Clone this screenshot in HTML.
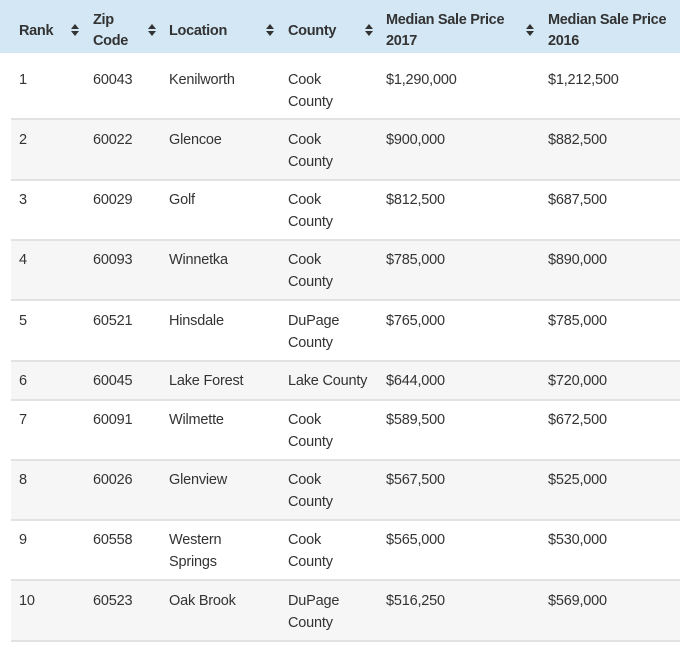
<!DOCTYPE html>
<html><head><style>
body{margin:0;width:680px;height:645px;background:#fff;position:relative;overflow:hidden;font-family:"Liberation Sans",sans-serif;color:#333;}
.hd{position:absolute;left:0;top:0;width:680px;height:53px;background:#d3e7f5;}
.h{position:absolute;font-size:14.5px;font-weight:bold;color:#333;line-height:21px;letter-spacing:-0.3px;}
.ic{position:absolute;width:8px;height:12px;}
.r{position:absolute;left:11px;width:669px;border-bottom:2px solid #e2e2e2;box-sizing:border-box;}
.g{background:#f6f6f6;}
.t{position:absolute;font-size:14.5px;line-height:22px;color:#333;letter-spacing:-0.2px;margin-top:1px;}
</style></head><body>
<div class="hd"></div>
<div class="h" style="left:19px;top:21px">Rank</div>
<div class="h" style="left:93px;top:10px">Zip<br>Code</div>
<div class="h" style="left:169px;top:21px">Location</div>
<div class="h" style="left:288px;top:21px">County</div>
<div class="h" style="left:386px;top:10px">Median Sale Price<br>2017</div>
<div class="h" style="left:548px;top:10px">Median Sale Price<br>2016</div>
<svg class="ic" style="left:71px;top:24px" viewBox="0 0 8 12"><path d="M0 5L4 0L8 5Z M0 7L4 12L8 7Z" fill="#333"/></svg>
<svg class="ic" style="left:148px;top:24px" viewBox="0 0 8 12"><path d="M0 5L4 0L8 5Z M0 7L4 12L8 7Z" fill="#333"/></svg>
<svg class="ic" style="left:266px;top:24px" viewBox="0 0 8 12"><path d="M0 5L4 0L8 5Z M0 7L4 12L8 7Z" fill="#333"/></svg>
<svg class="ic" style="left:365px;top:24px" viewBox="0 0 8 12"><path d="M0 5L4 0L8 5Z M0 7L4 12L8 7Z" fill="#333"/></svg>
<svg class="ic" style="left:526px;top:24px" viewBox="0 0 8 12"><path d="M0 5L4 0L8 5Z M0 7L4 12L8 7Z" fill="#333"/></svg>

<div class="r" style="top:53px;height:67px"></div>
<div class="r g" style="top:120px;height:61px"></div>
<div class="r" style="top:181px;height:60px"></div>
<div class="r g" style="top:241px;height:60px"></div>
<div class="r" style="top:301px;height:61px"></div>
<div class="r g" style="top:362px;height:39px"></div>
<div class="r" style="top:401px;height:60px"></div>
<div class="r g" style="top:461px;height:60px"></div>
<div class="r" style="top:521px;height:60px"></div>
<div class="r g" style="top:581px;height:61px"></div>

<div class="t" style="left:19px;top:68px">1</div><div class="t" style="left:93px;top:68px">60043</div><div class="t" style="left:169px;top:68px">Kenilworth</div><div class="t" style="left:288px;top:68px">Cook<br>County</div><div class="t" style="left:386px;top:68px">$1,290,000</div><div class="t" style="left:548px;top:68px">$1,212,500</div>
<div class="t" style="left:19px;top:128px">2</div><div class="t" style="left:93px;top:128px">60022</div><div class="t" style="left:169px;top:128px">Glencoe</div><div class="t" style="left:288px;top:128px">Cook<br>County</div><div class="t" style="left:386px;top:128px">$900,000</div><div class="t" style="left:548px;top:128px">$882,500</div>
<div class="t" style="left:19px;top:188px">3</div><div class="t" style="left:93px;top:188px">60029</div><div class="t" style="left:169px;top:188px">Golf</div><div class="t" style="left:288px;top:188px">Cook<br>County</div><div class="t" style="left:386px;top:188px">$812,500</div><div class="t" style="left:548px;top:188px">$687,500</div>
<div class="t" style="left:19px;top:248px">4</div><div class="t" style="left:93px;top:248px">60093</div><div class="t" style="left:169px;top:248px">Winnetka</div><div class="t" style="left:288px;top:248px">Cook<br>County</div><div class="t" style="left:386px;top:248px">$785,000</div><div class="t" style="left:548px;top:248px">$890,000</div>
<div class="t" style="left:19px;top:309px">5</div><div class="t" style="left:93px;top:309px">60521</div><div class="t" style="left:169px;top:309px">Hinsdale</div><div class="t" style="left:288px;top:309px">DuPage<br>County</div><div class="t" style="left:386px;top:309px">$765,000</div><div class="t" style="left:548px;top:309px">$785,000</div>
<div class="t" style="left:19px;top:369px">6</div><div class="t" style="left:93px;top:369px">60045</div><div class="t" style="left:169px;top:369px">Lake Forest</div><div class="t" style="left:288px;top:369px">Lake County</div><div class="t" style="left:386px;top:369px">$644,000</div><div class="t" style="left:548px;top:369px">$720,000</div>
<div class="t" style="left:19px;top:408px">7</div><div class="t" style="left:93px;top:408px">60091</div><div class="t" style="left:169px;top:408px">Wilmette</div><div class="t" style="left:288px;top:408px">Cook<br>County</div><div class="t" style="left:386px;top:408px">$589,500</div><div class="t" style="left:548px;top:408px">$672,500</div>
<div class="t" style="left:19px;top:468px">8</div><div class="t" style="left:93px;top:468px">60026</div><div class="t" style="left:169px;top:468px">Glenview</div><div class="t" style="left:288px;top:468px">Cook<br>County</div><div class="t" style="left:386px;top:468px">$567,500</div><div class="t" style="left:548px;top:468px">$525,000</div>
<div class="t" style="left:19px;top:528px">9</div><div class="t" style="left:93px;top:528px">60558</div><div class="t" style="left:169px;top:528px">Western<br>Springs</div><div class="t" style="left:288px;top:528px">Cook<br>County</div><div class="t" style="left:386px;top:528px">$565,000</div><div class="t" style="left:548px;top:528px">$530,000</div>
<div class="t" style="left:19px;top:589px">10</div><div class="t" style="left:93px;top:589px">60523</div><div class="t" style="left:169px;top:589px">Oak Brook</div><div class="t" style="left:288px;top:589px">DuPage<br>County</div><div class="t" style="left:386px;top:589px">$516,250</div><div class="t" style="left:548px;top:589px">$569,000</div>
</body></html>
